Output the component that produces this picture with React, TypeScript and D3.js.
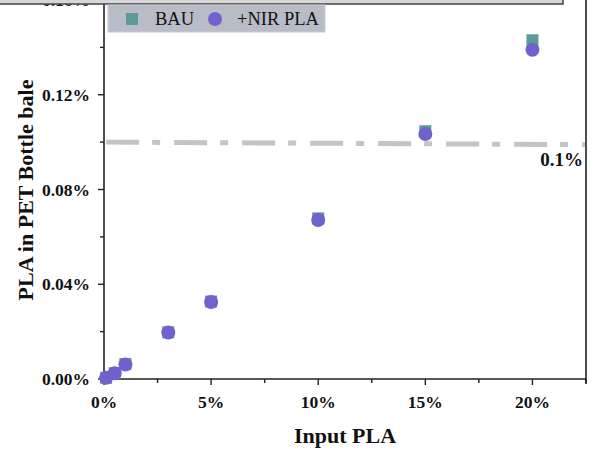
import React, { useEffect, useRef } from 'react'
import * as d3 from 'd3'

// input PLA share (fraction) and PLA share in PET bottle bale (fraction)
const inputPLA = [0.001, 0.005, 0.01, 0.03, 0.05, 0.10, 0.15, 0.20]
const bauValues = [0.000005, 0.000025, 0.000063, 0.000197, 0.000327, 0.000678, 0.001046, 0.001430]
const nirValues = [0.000005, 0.000024, 0.000061, 0.000196, 0.000325, 0.000671, 0.001034, 0.001390]
const xTicks = [0, 0.05, 0.10, 0.15, 0.20]
const yTicks = [0, 0.0004, 0.0008, 0.0012, 0.0016]
const threshold = 0.001

const App = () => {
  const ref = useRef<SVGSVGElement>(null)

  useEffect(() => {
    const svg = d3.select(ref.current)
    svg.selectAll('*').remove()

    const left = 104, right = 586, bottom = 379
    const font = '"Liberation Serif", "Times New Roman", serif'

    const x = d3.scaleLinear().domain([0, 0.225]).range([left, right])
    const y = d3.scaleLinear().domain([0, 0.0016]).range([bottom, 0])

    // y axis
    const yAxis = svg.append('g').attr('transform', `translate(${left},0)`)
    yAxis.append('line').attr('x1', 0).attr('x2', 0).attr('y1', -5).attr('y2', bottom)
      .attr('stroke', '#222').attr('stroke-width', 1.6)
    yAxis.selectAll('.minor').data(d3.range(0, 0.00165, 0.0002)).enter().append('line')
      .attr('x1', (d, i) => (i % 2 === 0 ? -6 : -4)).attr('x2', 0)
      .attr('y1', d => y(d)).attr('y2', d => y(d))
      .attr('stroke', '#222').attr('stroke-width', 1.4)
    yAxis.selectAll('text').data(yTicks).enter().append('text')
      .attr('x', -14).attr('y', d => y(d)).attr('dy', '0.35em')
      .attr('text-anchor', 'end').attr('font-family', font).attr('font-weight', 'bold')
      .attr('font-size', 17.5).attr('fill', '#111')
      .text(d => d3.format('.2%')(d))

    // x axis
    const xAxis = svg.append('g').attr('transform', `translate(0,${bottom})`)
    xAxis.append('line').attr('x1', left).attr('x2', right).attr('y1', 0).attr('y2', 0)
      .attr('stroke', '#222').attr('stroke-width', 1.6)
    xAxis.selectAll('.minor').data(d3.range(0, 0.2251, 0.025)).enter().append('line')
      .attr('x1', d => x(d)).attr('x2', d => x(d))
      .attr('y1', 0).attr('y2', (d, i) => (i % 2 === 0 ? 6 : 4))
      .attr('stroke', '#222').attr('stroke-width', 1.4)
    xAxis.selectAll('text').data(xTicks).enter().append('text')
      .attr('x', d => x(d)).attr('y', 29)
      .attr('text-anchor', 'middle').attr('font-family', font).attr('font-weight', 'bold')
      .attr('font-size', 17.5).attr('fill', '#111')
      .text(d => d3.format('.0%')(d))

    // right frame
    svg.append('line').attr('x1', right).attr('x2', right).attr('y1', -5).attr('y2', bottom + 5)
      .attr('stroke', '#222').attr('stroke-width', 1.6)

    // titles
    svg.append('text').attr('x', 345).attr('y', 443).attr('text-anchor', 'middle')
      .attr('font-family', font).attr('font-weight', 'bold').attr('font-size', 22).attr('fill', '#111')
      .text('Input PLA')
    svg.append('text').attr('transform', `translate(33,190) rotate(-90)`).attr('text-anchor', 'middle')
      .attr('font-family', font).attr('font-weight', 'bold').attr('font-size', 22).attr('fill', '#111')
      .text('PLA in PET Bottle bale')

    // 0.1% threshold line
    svg.append('line')
      .attr('x1', x(0.001)).attr('x2', right - 1)
      .attr('y1', y(threshold)).attr('y2', y(threshold) + 2.5)
      .attr('stroke', '#c4c4c4').attr('stroke-width', 5)
      .attr('stroke-dasharray', '33,13,8,14')
    svg.append('text').attr('x', 583).attr('y', 166).attr('text-anchor', 'end')
      .attr('font-family', font).attr('font-weight', 'bold').attr('font-size', 19).attr('fill', '#111')
      .text('0.1%')

    // points
    const s = 12
    svg.selectAll('.bau').data(inputPLA).enter().append('rect')
      .attr('x', d => x(d) - s / 2).attr('y', (d, i) => y(bauValues[i]) - s / 2)
      .attr('width', s).attr('height', s).attr('fill', '#5c9b97')
    svg.selectAll('.nir').data(inputPLA).enter().append('circle')
      .attr('cx', d => x(d)).attr('cy', (d, i) => y(nirValues[i]))
      .attr('r', 7).attr('fill', '#6f62cf')

    // overlapping gray bar at top
    svg.append('rect').attr('x', -2).attr('y', -2).attr('width', 565).attr('height', 6)
      .attr('fill', '#d6d6d6').attr('stroke', '#444').attr('stroke-width', 1.5)

    // legend
    const lg = svg.append('g')
    lg.append('rect').attr('x', 108).attr('y', 5).attr('width', 217).attr('height', 27)
      .attr('fill', '#b7bcc6').attr('stroke', '#c9ccd2')
    lg.append('rect').attr('x', 126).attr('y', 13).attr('width', 12).attr('height', 12).attr('fill', '#5c9b97')
    lg.append('text').attr('x', 155).attr('y', 25).attr('font-family', font)
      .attr('font-size', 18.5).attr('fill', '#111').text('BAU')
    lg.append('circle').attr('cx', 215).attr('cy', 19).attr('r', 7).attr('fill', '#6f62cf')
    lg.append('text').attr('x', 237).attr('y', 25).attr('font-family', font)
      .attr('font-size', 18.5).attr('fill', '#111').text('+NIR PLA')
  }, [])

  return (
    <svg ref={ref} width={597} height={449}
      style={{ position: 'absolute', left: 0, top: 0, background: '#fff' }} />
  )
}

export default App
